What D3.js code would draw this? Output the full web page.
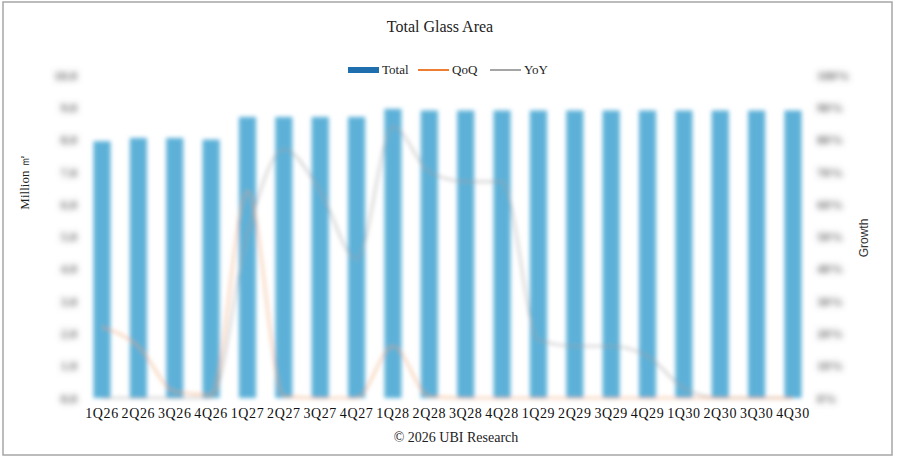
<!DOCTYPE html>
<html>
<head>
<meta charset="utf-8">
<script src="https://cdn.jsdelivr.net/npm/d3@7"></script>
<style>
  body { margin: 0; background: #fff; }
  svg { display: block; }
</style>
</head>
<body>
<div id="chart-area"></div>
<script>
// data
const quarters = ["1Q26","2Q26","3Q26","4Q26","1Q27","2Q27","3Q27","4Q27","1Q28","2Q28",
                  "3Q28","4Q28","1Q29","2Q29","3Q29","4Q29","1Q30","2Q30","3Q30","4Q30"];
// Million m2
const total = [7.95, 8.05, 8.05, 8.0, 8.7, 8.7, 8.7, 8.7, 8.95, 8.9,
               8.9, 8.9, 8.9, 8.9, 8.9, 8.9, 8.9, 8.9, 8.9, 8.9];
// growth, %
const qoq = [22, 16, 2, 1, 64, 0.5, 0, 0, 16, 0.5, 0, 0, 0, 0, 0, 0, 0, 0, 0, 0];
const yoy = [0, 0, 0, 0, 51, 77, 64, 43, 84, 70, 67, 67, 18, 16, 16, 13, 3, 0, 0, 0];
const leftTicks = [0, 1, 2, 3, 4, 5, 6, 7, 8, 9, 10];
const rightTicks = [0, 10, 20, 30, 40, 50, 60, 70, 80, 90, 100];

let w = 897;
let h = 461;
let serif = "'Liberation Serif', 'Times New Roman', serif";

let svg = d3.select("#chart-area")
    .append("svg")
    .attr("width", w)
    .attr("height", h);

// the source picture is blurred, so are the marks here
let defs = svg.append("defs");
defs.append("filter").attr("id", "soft")
    .attr("filterUnits", "userSpaceOnUse")
    .attr("x", -w).attr("y", -h).attr("width", 3 * w).attr("height", 3 * h)
  .append("feGaussianBlur").attr("stdDeviation", 2.2);
defs.append("filter").attr("id", "fog")
    .attr("filterUnits", "userSpaceOnUse")
    .attr("x", -w).attr("y", -h).attr("width", 3 * w).attr("height", 3 * h)
  .append("feGaussianBlur").attr("stdDeviation", 3.2);

// frame
svg.append("rect")
    .attr("x", 3).attr("y", 2)
    .attr("width", 889).attr("height", 453)
    .attr("fill", "#fff")
    .attr("stroke", "#a6a6a6")
    .attr("stroke-width", 1.5);

// scales
let x = d3.scaleBand()
    .domain(quarters)
    .range([84, 811])
    .paddingInner(0.53)
    .paddingOuter(0.26);

let y = d3.scaleLinear()
    .domain([0, 10])
    .range([398, 75]);

let y2 = d3.scaleLinear()
    .domain([0, 100])
    .range([398, 75]);

// bars
let plot = svg.append("g").attr("filter", "url(#soft)");
plot.selectAll("rect")
    .data(quarters)
    .enter()
    .append("rect")
      .attr("x", function(d) { return x(d); })
      .attr("y", function(d, i) { return y(total[i]); })
      .attr("width", x.bandwidth())
      .attr("height", function(d, i) { return y(0) - y(total[i]); })
      .attr("fill", "#5db1d8");

// lines
let mid = function(d) { return x(d) + x.bandwidth() / 2; };
let lineQ = d3.line()
    .x(function(d, i) { return mid(quarters[i]); })
    .y(function(d) { return y2(d); })
    .curve(d3.curveMonotoneX);

plot.append("path")
    .attr("d", lineQ(yoy))
    .attr("fill", "none")
    .attr("stroke", "#a0a0a0")
    .attr("stroke-opacity", 0.7)
    .attr("stroke-width", 1.6);

plot.append("path")
    .attr("d", lineQ(qoq))
    .attr("fill", "none")
    .attr("stroke", "#ed9a60")
    .attr("stroke-opacity", 0.7)
    .attr("stroke-width", 1.6);

// axes (labels blurred like the source)
let axL = svg.append("g")
    .attr("transform", "translate(77,0)")
    .attr("filter", "url(#fog)")
    .call(d3.axisLeft(y).tickValues(leftTicks).tickSize(0).tickPadding(0)
      .tickFormat(d3.format(".1f")));
let axR = svg.append("g")
    .attr("transform", "translate(817,0)")
    .attr("filter", "url(#fog)")
    .call(d3.axisRight(y2).tickValues(rightTicks).tickSize(0).tickPadding(0)
      .tickFormat(function(d) { return d + "%"; }));
[axL, axR].forEach(function(a) {
  a.select(".domain").remove();
  a.selectAll("text")
      .attr("font-family", serif)
      .attr("font-size", 13)
      .attr("font-weight", "bold")
      .attr("fill", "#666");
});

let axX = svg.append("g")
    .attr("transform", "translate(0,404)")
    .call(d3.axisBottom(x).tickSize(0).tickPadding(0));
axX.select(".domain").remove();
axX.selectAll("text")
    .attr("font-family", serif)
    .attr("font-size", 14)
    .attr("letter-spacing", 0.6)
    .attr("dy", "1em")
    .attr("fill", "#111");

// titles
svg.append("text")
    .text("Total Glass Area")
    .attr("x", 440).attr("y", 32)
    .attr("text-anchor", "middle")
    .attr("font-family", serif)
    .attr("font-size", 16)
    .attr("fill", "#222");

svg.append("text")
    .text("Million ㎡")
    .attr("transform", "translate(29,182) rotate(-90)")
    .attr("text-anchor", "middle")
    .attr("font-family", serif)
    .attr("font-size", 13)
    .attr("fill", "#222");

svg.append("text")
    .text("Growth")
    .attr("transform", "translate(868,238) rotate(-90)")
    .attr("text-anchor", "middle")
    .attr("font-family", "'Liberation Sans', Arial, sans-serif")
    .attr("font-size", 12)
    .attr("fill", "#333");

svg.append("text")
    .text("© 2026 UBI Research")
    .attr("x", 456).attr("y", 442)
    .attr("text-anchor", "middle")
    .attr("font-family", serif)
    .attr("font-size", 14)
    .attr("fill", "#222");

// legend
let legend = [
  { name: "Total", color: "#1f6fae", x: 348, h: 6 },
  { name: "QoQ", color: "#ed7d31", x: 418, h: 2 },
  { name: "YoY", color: "#a5a5a5", x: 490, h: 2 }
];
let lg = svg.append("g");
lg.selectAll("rect")
    .data(legend)
    .enter()
    .append("rect")
      .attr("x", function(d) { return d.x; })
      .attr("y", function(d) { return 70 - d.h / 2; })
      .attr("width", 31)
      .attr("height", function(d) { return d.h; })
      .attr("fill", function(d) { return d.color; });
lg.selectAll("text")
    .data(legend)
    .enter()
    .append("text")
      .text(function(d) { return d.name; })
      .attr("x", function(d) { return d.x + 34; })
      .attr("y", 74)
      .attr("font-family", serif)
      .attr("font-size", 13)
      .attr("fill", "#222");
</script>
</body>
</html>
